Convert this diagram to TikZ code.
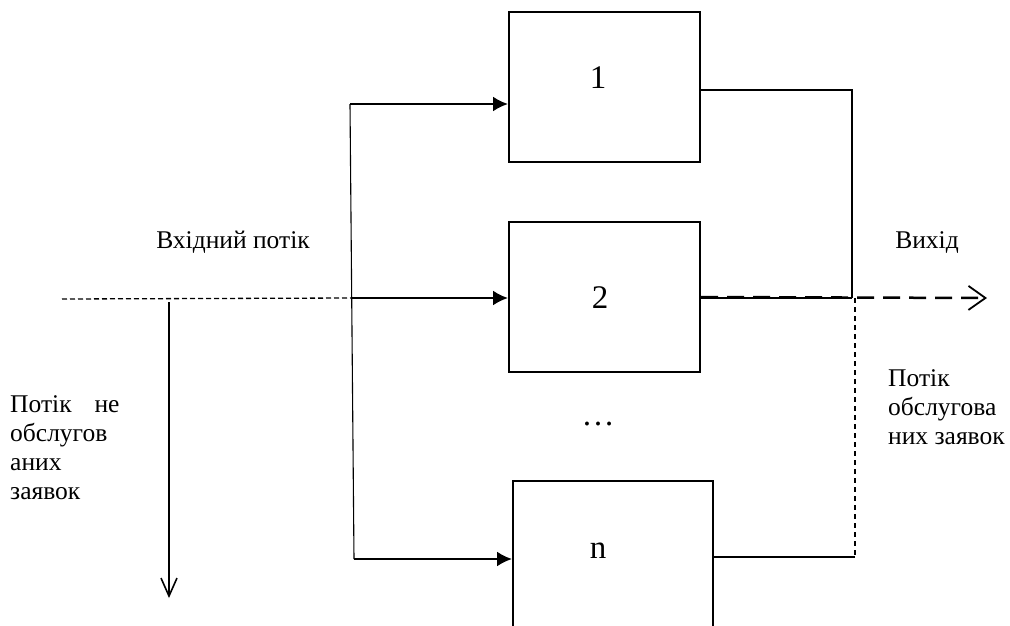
\documentclass[tikz,border=0pt]{standalone}
\usepackage{fontspec}
\setmainfont{Liberation Serif}
\usetikzlibrary{arrows.meta}
\begin{document}
\begin{tikzpicture}[x=1pt,y=-1pt,
  channel/.style={draw,line width=2pt,minimum width=191pt,minimum height=150pt,inner sep=0pt},
  num/.style={font=\fontsize{33}{36}\selectfont},
  lbl/.style={font=\fontsize{25.5}{29}\selectfont,inner sep=0pt},
  feed/.style={line width=2.2pt,-{Latex[length=15pt,width=15pt]}},
  wire/.style={line width=1.1pt},
  dashwire/.style={line width=1.3pt}]
\clip (0,0) rectangle (1010,625);
% service channels
\node[channel] (b1) at (604.5,87) {};
\node[channel] (b2) at (604.5,297) {};
\node[channel,minimum width=200pt] (bn) at (613,556) {};
\node[num] (t1) at (598,78) {1};
\node[num] (t2) at (600,298) {2};
\node[num] (tn) at (598,551) {n};
\node[num] (dots) at (598,424) {\dots};
% incoming flow and distribution
\coordinate (in) at (62,299);
\coordinate (L1) at (350,104);
\coordinate (L2) at (351,298);
\coordinate (Ln) at (354,559);
\draw[dashwire,dash pattern=on 5pt off 3pt] (in) -- (L2);
\draw[wire] (L1) -- (Ln);
\draw[feed] (L1) -- (b1.west |- L1);
\draw[feed] (L2) -- (b2.west |- L2);
\draw[feed] (Ln) -- (bn.west |- Ln);
% rejected requests
\coordinate (d0) at (169,302);
\coordinate (d1) at (169,598);
\draw[line width=2pt,-{Straight Barb[length=18pt,width=16pt,line width=1.6pt]}] (d0) -- (d1);
% outgoing flow
\coordinate (R1) at (852,90);
\coordinate (R2) at (852,298);
\coordinate (Rd) at (855,298);
\coordinate (Rn) at (855,557);
\coordinate (out) at (987,298);
\draw[wire] (b1.east |- R1) -- (R1) -- (R2);
\draw[wire] (b2.east |- R2) -- (R2);
\draw[dashwire,dash pattern=on 5pt off 4pt] (Rd) -- (Rn);
\draw[wire] (Rn) -- (bn.east |- Rn);
\draw[line width=2.5pt,dash pattern=on 17pt off 9pt,-{Straight Barb[length=17pt,width=24pt,line width=1.8pt]}] (b2.east) -- (out);
% captions
\node[lbl] (inlbl) at (233,242) {Вхідний потік};
\node[lbl] (outlbl) at (927,243) {Вихід};
\node[lbl,anchor=north west,align=left] (rej) at (10,395) {Потік\hspace{0.65em} не\\обслугов\\аних\\заявок};
\node[lbl,anchor=north west,align=left] (served) at (888,369) {Потік\\обслугова\\них заявок};
\end{tikzpicture}
\end{document}
